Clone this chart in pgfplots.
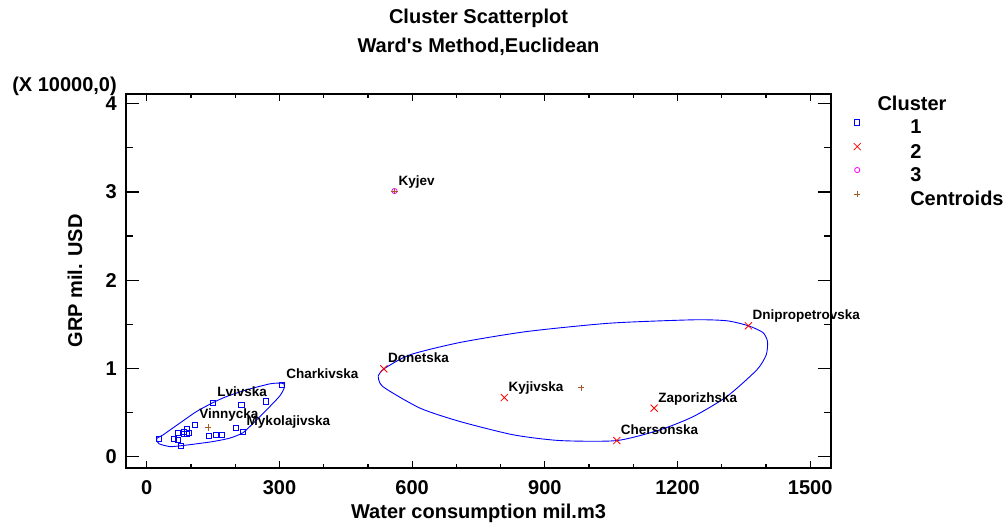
\documentclass[border=0pt]{standalone}
\usepackage{pgfplots}
\pgfplotsset{compat=1.18}
\usepackage{fontspec}
\setmainfont{Liberation Sans}
\definecolor{cblue}{RGB}{0,0,255}
\definecolor{cred}{RGB}{255,0,0}
\definecolor{cmag}{RGB}{255,0,255}
\definecolor{cbrown}{RGB}{165,90,40}
\newcommand{\lbl}{\fontsize{20}{20}\selectfont\bfseries}
\newcommand{\dl}{\fontsize{13.5}{14}\selectfont\bfseries}
\begin{document}
\begin{tikzpicture}
\useasboundingbox (0,0) rectangle (1007pt,524pt);
\begin{axis}[
    scale only axis, clip=false,
    width=705pt, height=374pt,
    at={(126pt,56pt)}, anchor=south west,
    xmin=-47, xmax=1547,
    ymin=-0.13, ymax=4.11,
    xtick={0,300,...,1500}, minor x tick num=2,
    ytick={0,1,2,3,4}, minor y tick num=1,
    tick align=inside, tick pos=both,
    major tick length=13pt, minor tick length=7pt,
    xtick style={/pgfplots/major tick length=7pt, /pgfplots/minor tick length=4pt},
    axis line style={line width=1.3pt},
    every tick/.style={black, line width=1.2pt},
    scaled y ticks=false, scaled x ticks=false,
    /pgf/number format/1000 sep={},
    /pgf/number format/assume math mode=true,
    tick label style={font=\lbl},
    xticklabel style={anchor=center, inner sep=0pt, yshift=-19.5pt},
    yticklabel style={anchor=east, inner sep=0pt, xshift=-9pt},
    xlabel={Water consumption mil.m3},
    ylabel={GRP mil. USD},
    label style={font=\lbl},
    xlabel style={at={(axis description cs:0.5,-0.1203)}, anchor=center},
    ylabel style={at={(axis description cs:-0.0723,0.5)}, anchor=center},
    legend style={draw=none, fill=none,
        at={(axis description cs:1.0319,0.9318)}, anchor=north west,
        inner sep=0pt, font=\lbl, row sep=5.3pt, column sep=49.5pt,
        nodes={inner sep=0pt, text height=14pt, text depth=4pt}},
    legend cell align=left,
    legend image code/.code={\draw[#1] plot coordinates {(0pt,6.5pt)};},
]
% ellipse cluster 1
\addplot[cblue, line width=0.9pt, smooth, tension=0.4, forget plot] coordinates {
(21.9,0.189) (27.8,0.144) (52,0.113) (74.7,0.121) (112.4,0.144) (150,0.170)
(187.8,0.209) (217.9,0.272) (248.2,0.416) (278.3,0.567) (300.9,0.688)
(310.6,0.776) (310,0.824) (300.9,0.832) (278.3,0.824) (225.6,0.756)
(180.3,0.680) (150,0.612) (112.4,0.510) (74.7,0.379) (36.9,0.246)
(23.3,0.209) (21.9,0.189)};
% ellipse cluster 2
\addplot[cblue, line width=0.9pt, smooth, tension=0.4, forget plot] coordinates {
(523.3,0.915) (533.3,0.794) (617.6,0.549) (708.1,0.397) (828.7,0.246)
(934.4,0.181) (1062.7,0.181) (1160.6,0.303) (1236,0.454) (1311.5,0.680)
(1379.4,0.983) (1400.5,1.153) (1403.4,1.304) (1393,1.406) (1360.4,1.482)
(1311.5,1.539) (1236,1.55) (1047.5,1.512) (859,1.417) (708.1,1.293)
(595,1.153) (536.2,0.994) (523.3,0.915)};
% cluster 1
\addplot[only marks, mark=square, mark size=2.6pt, cblue, line width=0.8pt] coordinates {
(27.8,0.197) (61.8,0.200) (69.5,0.272) (70.8,0.190) (76.9,0.125)
(84.4,0.283) (84.4,0.254) (89.8,0.311) (91.2,0.254) (95.7,0.265)
(109.3,0.359) (141,0.235) (156,0.246) (170,0.246) (150,0.612)
(201,0.322) (216.5,0.283) (214,0.583) (268.6,0.624) (306,0.813)};
\addlegendentry{1}
% cluster 2
\addplot[only marks, mark=x, mark size=5pt, cred, line width=0.8pt] coordinates {
(536,0.994) (808.4,0.669) (1062.6,0.181) (1147,0.549) (1360.4,1.482)};
\addlegendentry{2}
% cluster 3
\addplot[only marks, mark=o, mark size=2.6pt, cmag, line width=0.8pt] coordinates {
(560,3.01)};
\addlegendentry{3}
% centroids
\addplot[only marks, mark=+, mark size=3.2pt, cbrown, line width=0.9pt] coordinates {
(138.7,0.329) (982,0.779) (560,3.01)};
\addlegendentry{Centroids}
% point labels
\begin{scope}[every node/.style={font=\dl, anchor=base west, inner sep=0pt, xshift=4pt, yshift=6pt}]
\node at (axis cs:150,0.612) {Lvivska};
\node at (axis cs:109.3,0.359) {Vinnycka};
\node at (axis cs:216.5,0.283) {Mykolajivska};
\node at (axis cs:306,0.813) {Charkivska};
\node at (axis cs:536,0.994) {Donetska};
\node at (axis cs:808.4,0.669) {Kyjivska};
\node at (axis cs:1062.6,0.181) {Chersonska};
\node at (axis cs:1147,0.549) {Zaporizhska};
\node at (axis cs:1360.4,1.482) {Dnipropetrovska};
\node at (axis cs:560,3.01) {Kyjev};
\end{scope}
\end{axis}
\node[font=\lbl] at (478.5pt,506pt) {Cluster Scatterplot};
\node[font=\lbl] at (478.5pt,477pt) {Ward\textquotesingle s Method,Euclidean};
\node[font=\lbl, anchor=east, inner sep=0pt] at (117pt,438pt) {(X 10000,0)};
\node[font=\lbl] at (912pt,421pt) {Cluster};
\end{tikzpicture}
\end{document}
